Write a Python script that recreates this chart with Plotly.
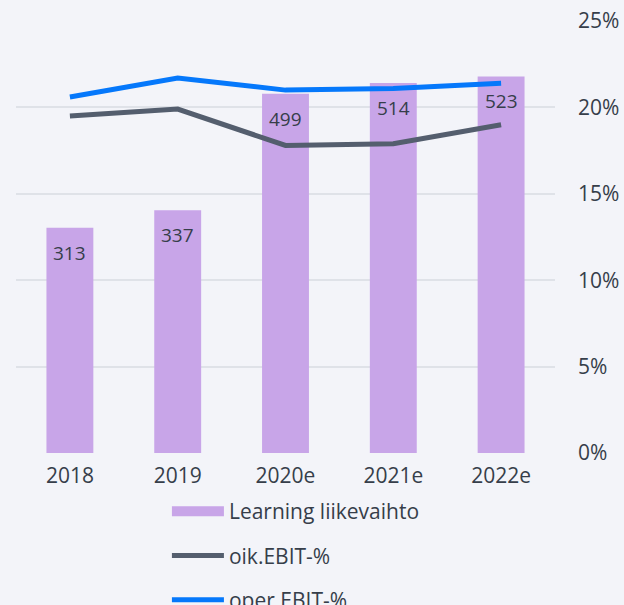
import plotly.graph_objects as go

categories = ["2018", "2019", "2020e", "2021e", "2022e"]
revenue = [313, 337, 499, 514, 523]
oik_ebit = [19.5, 19.9, 17.8, 17.9, 19.0]
oper_ebit = [20.6, 21.7, 21.0, 21.1, 21.4]

font_family = "Open Sans, Lato, sans-serif"
text_color = "#363e4a"
bg = "#f3f4f9"
bar_color = "#c8a5e8"

fig = go.Figure()
fig.add_trace(go.Bar(
    x=categories, y=revenue, name="Learning liikevaihto",
    marker=dict(color=bar_color, line=dict(width=0)),
    yaxis="y", showlegend=False,
))
# legend proxy for the bar series (wide swatch)
fig.add_trace(go.Scatter(
    x=[categories[0]], y=[None], name="Learning liikevaihto", mode="lines",
    line=dict(color=bar_color, width=14), yaxis="y", legendgroup="a",
))
fig.add_trace(go.Scatter(
    x=categories, y=oik_ebit, name="oik.EBIT-%", mode="lines",
    line=dict(color="#545e6e", width=5), yaxis="y2", legendgroup="b",
))
fig.add_trace(go.Scatter(
    x=categories, y=oper_ebit, name="oper.EBIT-%", mode="lines",
    line=dict(color="#0578fb", width=5), yaxis="y2", legendgroup="c",
))

for i, v in enumerate(revenue):
    fig.add_annotation(x=i, y=v, xref="x", yref="y", text=str(v), showarrow=False,
                       yshift=-25, font=dict(size=19, color=text_color, family=font_family))

fig.update_layout(
    width=624, height=605,
    paper_bgcolor=bg, plot_bgcolor=bg,
    margin=dict(l=16, r=69, t=21, b=152, autoexpand=False),
    font=dict(family=font_family, color=text_color, size=21),
    bargap=0.565,
    showlegend=True,
    legend=dict(orientation="v", x=0.28, xanchor="left", y=-0.088, yanchor="top",
                font=dict(size=21, color=text_color), tracegroupgap=14,
                bgcolor="rgba(0,0,0,0)", traceorder="grouped", itemwidth=52),
    xaxis=dict(type="category", categoryorder="array", categoryarray=categories,
               range=[-0.5, len(categories) - 0.5],
               showgrid=False, showline=False, ticks="",
               tickfont=dict(size=21), ticklabelstandoff=8),
    yaxis=dict(range=[0, 600], showgrid=False, showticklabels=False, zeroline=False,
               showline=False),
    yaxis2=dict(range=[0, 25], overlaying="y", side="right", dtick=5, ticksuffix="%",
                showgrid=True, gridcolor="#dfe2e8", gridwidth=2, zeroline=False,
                showline=False, tickfont=dict(size=21), ticklabelstandoff=22),
)

fig.write_html(
    "out.html",
    config={"displayModeBar": False},
    post_script="document.body.style.margin='0';document.body.style.background='%s';" % bg,
)
